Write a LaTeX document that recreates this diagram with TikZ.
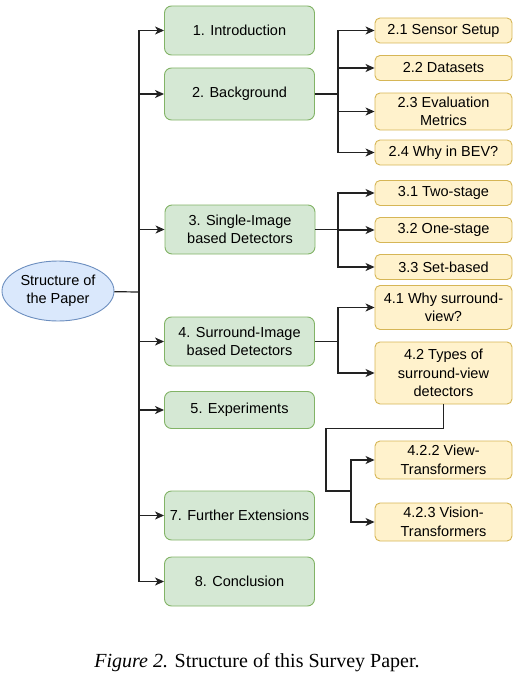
\documentclass[tikz,border=0pt]{standalone}
\usepackage{fontspec}
\setmainfont{Liberation Serif}
\newfontfamily\boxfont{Liberation Sans}
\usetikzlibrary{arrows.meta,shapes.geometric}
\definecolor{greenfill}{HTML}{D5E8D4}
\definecolor{greenline}{HTML}{82B366}
\definecolor{yellowfill}{HTML}{FFF2CC}
\definecolor{yellowline}{HTML}{D6B656}
\definecolor{bluefill}{HTML}{DAE8FC}
\definecolor{blueline}{HTML}{6C8EBF}
\definecolor{wire}{HTML}{222222}

\begin{document}
\begin{tikzpicture}[x=1pt,y=-1pt]
		
		\tikzset{root/.style = {shape=ellipse,draw=blueline,fill=bluefill,line width=0.9pt,minimum width=112pt,minimum height=60pt,inner sep=0pt,align=center,font=\boxfont\fontsize{14.5}{18.5}\selectfont}}
		\tikzset{chapter/.style = {shape=rectangle,rounded corners=7pt,draw=greenline,fill=greenfill,line width=0.9pt,minimum width=150pt,inner sep=0pt,align=center,font=\boxfont\fontsize{14.5}{18.5}\selectfont}}
		\tikzset{section/.style = {shape=rectangle,rounded corners=5pt,draw=yellowline,fill=yellowfill,line width=0.9pt,minimum width=137pt,inner sep=0pt,align=center,font=\boxfont\fontsize{14.5}{18.5}\selectfont}}
		\tikzset{edge/.style = {draw=wire,line width=1.2pt,-{Stealth[length=9pt,width=8pt,inset=2.5pt]}}}
		\tikzset{wire/.style = {draw=wire,line width=1.2pt}}
		\useasboundingbox (0,0) rectangle (518,677);
		\node[root] (paper) at (58,291) {Structure of\\the Paper};
		% chapters
		\node[chapter,minimum height=49pt] (intro) at (239.5,30.5) {1. Introduction};
		\node[chapter,minimum height=52pt] (backg) at (239.5,94) {2. Background};
		\node[chapter,minimum height=49pt] (single) at (240,229.5) {3. Single-Image\\based Detectors};
		\node[chapter,minimum height=49pt] (surround) at (239.5,341.5) {4. Surround-Image\\based Detectors};
		\node[chapter,minimum height=37pt] (exper) at (239.5,410) {5. Experiments};
		\node[chapter,minimum height=49pt] (further) at (239.5,515.5) {7. Further Extensions};
		\node[chapter,minimum height=49pt] (concl) at (239.5,581.5) {8. Conclusion};
		% sections
		\node[section,minimum height=25pt] (sensor) at (443.5,30.5) {2.1 Sensor Setup};
		\node[section,minimum height=25pt] (data) at (443.5,68) {2.2 Datasets};
		\node[section,minimum height=37pt] (metric) at (443.5,111.5) {2.3 Evaluation\\Metrics};
		\node[section,minimum height=25pt] (whybev) at (443.5,152.5) {2.4 Why in BEV?};
		\node[section,minimum height=25pt] (twostage) at (443.5,193) {3.1 Two-stage};
		\node[section,minimum height=25pt] (onestage) at (443.5,230) {3.2 One-stage};
		\node[section,minimum height=25pt] (setbased) at (443.5,267) {3.3 Set-based};
		\node[section,minimum height=44pt] (whysur) at (443.5,307.5) {4.1 Why surround-\\view?};
		\node[section,minimum height=62pt] (types) at (443.5,373) {4.2 Types of\\surround-view\\detectors};
		\node[section,minimum height=38pt] (viewtr) at (443.5,460) {4.2.2 View-\\Transformers};
		\node[section,minimum height=38pt] (visiontr) at (443.5,522) {4.2.3 Vision-\\Transformers};
		% junctions
		\coordinate (trunk) at (139,292);
		\coordinate (bfork) at (338,94);
		\coordinate (sfork) at (338,229.5);
		\coordinate (rfork) at (338,341.5);
		\coordinate (bend) at (326,428.5);
		\coordinate (tfork) at (351,491);
		%edges
		\draw[wire] (paper) -- (trunk);
		\foreach \n in {intro,backg,single,surround,exper,further,concl}
			\draw[edge] (trunk) |- (\n);
		\foreach \n in {sensor,data,metric,whybev}
			\draw[edge] (backg) -- (bfork) |- (\n);
		\foreach \n in {twostage,onestage,setbased}
			\draw[edge] (single) -- (sfork) |- (\n);
		\foreach \n in {whysur,types}
			\draw[edge] (surround) -- (rfork) |- (\n);
		\foreach \n in {viewtr,visiontr}
			\draw[edge] (types.south) |- (bend) |- (tfork) |- (\n);
		% caption
		\node[font=\fontsize{20}{24}\selectfont,anchor=base] (caption) at (257,667) {\textit{Figure 2.} Structure of this Survey Paper.};
		\end{tikzpicture}
\end{document}
